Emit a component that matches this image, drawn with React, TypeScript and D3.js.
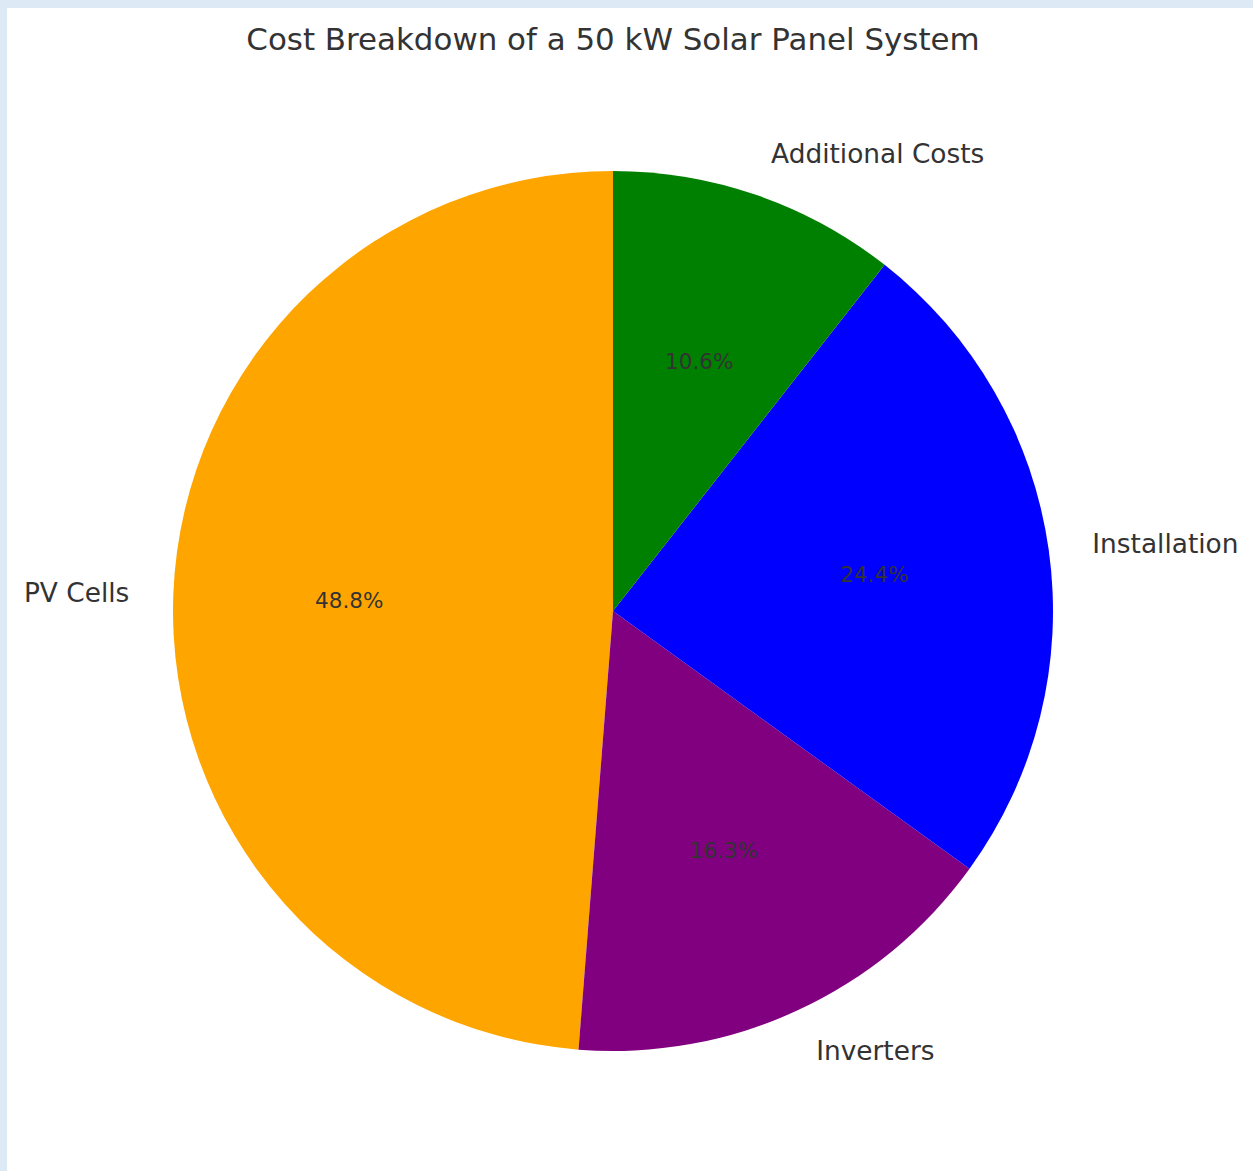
import React from "react";
import * as d3 from "d3";

const categories = ["PV Cells", "Inverters", "Installation", "Additional Costs"];
const shares = [48.8, 16.3, 24.4, 10.6];
const colors = ["#FFA500", "#800080", "#0000FF", "#008000"];
const title = "Cost Breakdown of a 50 kW Solar Panel System";

const W = 1253;
const H = 1171;
const cx = 613;
const cy = 611;
const R = 440;

export default function App() {
  const data = categories.map((c, i) => ({ name: c, value: shares[i], color: colors[i] }));
  // counterclockwise from top, like matplotlib startangle=90
  const pie = d3
    .pie<any>()
    .value((d) => d.value)
    .sort(null)
    .startAngle(0)
    .endAngle(-2 * Math.PI);
  const arcs = pie(data);
  const arc = d3.arc<any>().innerRadius(0).outerRadius(R);
  const font = "DejaVu Sans, sans-serif";

  return (
    <div style={{ position: "absolute", left: 0, top: 0 }}>
      <svg width={W} height={H} style={{ display: "block" }}>
        <rect x={0} y={0} width={W} height={H} fill="#dde9f5" />
        <rect x={7} y={8} width={W - 7} height={H - 8} fill="#ffffff" />
        <text
          x={cx}
          y={50}
          textAnchor="middle"
          fontFamily={font}
          fontSize={30.9}
          fill="#333333"
        >
          {title}
        </text>
        <g transform={`translate(${cx},${cy})`}>
          {arcs.map((a, i) => (
            <path key={i} d={arc(a) as string} fill={a.data.color} />
          ))}
          {arcs.map((a, i) => {
            const mid = (a.startAngle + a.endAngle) / 2;
            const lx = 1.1 * R * Math.sin(mid);
            const ly = -1.1 * R * Math.cos(mid);
            const px = 0.6 * R * Math.sin(mid);
            const py = -0.6 * R * Math.cos(mid);
            return (
              <g key={"l" + i}>
                <text
                  x={lx}
                  y={ly}
                  textAnchor={lx >= 0 ? "start" : "end"}
                  dominantBaseline="central"
                  fontFamily={font}
                  fontSize={26.4}
                  fill="#333333"
                >
                  {a.data.name}
                </text>
                <text
                  x={px}
                  y={py}
                  textAnchor="middle"
                  dominantBaseline="central"
                  fontFamily={font}
                  fontSize={21.5}
                  fill="#333333"
                >
                  {a.data.value.toFixed(1)}%
                </text>
              </g>
            );
          })}
        </g>
      </svg>
    </div>
  );
}
